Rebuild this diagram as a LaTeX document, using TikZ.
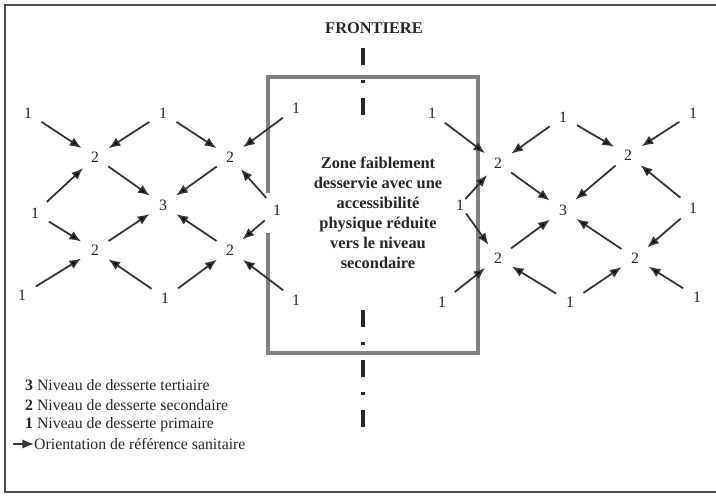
\documentclass[tikz,border=0pt]{standalone}
\usepackage{fontspec}
\setmainfont{Liberation Serif}
\usetikzlibrary{arrows.meta}

\tikzset{
  lvl/.style={circle, inner sep=0pt, minimum size=0.75cm, text=black!85, font=\fontsize{13.5}{15}\selectfont},
  arr/.style={-{Latex[length=10pt,width=8pt]}, line width=1.5pt, draw=black!80, shorten >=3pt, shorten <=3pt},
  leg/.style={anchor=west, text=black!85, font=\fontsize{13.5}{16}\selectfont}
}

\begin{document}
\begin{tikzpicture}[x=0.03cm, y=-0.03cm]
  \useasboundingbox (0,0) rectangle (716,495);
  \draw[line width=1.5pt, black!70] (716,5) -- (5,5) -- (5,492) -- (716,492);

  \node[font=\fontsize{14}{16}\selectfont\bfseries, text=black!85] (front) at (374,28) {FRONTIERE};
  \draw[line width=3.5pt, black!85, dash pattern=on 14.5pt off 12.8pt on 2.6pt off 12.8pt] (363,48) -- (363,117);
  \draw[line width=3.5pt, black!85, dash pattern=on 14.5pt off 12.8pt on 2.6pt off 12.8pt] (363,310) -- (363,432);

  \draw[line width=3pt, black!50] (268,193) -- (268,77) -- (478,77) -- (478,353) -- (268,353) -- (268,233);
  \node[align=center, text=black!85, font=\fontsize{14}{17}\selectfont\bfseries] (zone) at (378,213)
    {Zone faiblement\\desservie avec une\\accessibilit\'e\\physique r\'eduite\\vers le niveau\\secondaire};

  \node[lvl] (La) at (28,113) {1};
  \node[lvl] (Lb) at (163,113) {1};
  \node[lvl] (Lc) at (296,108) {1};
  \node[lvl] (Ld) at (95,157) {2};
  \node[lvl] (Le) at (230,157) {2};
  \node[lvl] (Lf) at (35,213) {1};
  \node[lvl] (Lg) at (163,205) {3};
  \node[lvl] (Lh) at (277,210) {1};
  \node[lvl] (Li) at (95,250) {2};
  \node[lvl] (Lj) at (230,250) {2};
  \node[lvl] (Lk) at (22,295) {1};
  \node[lvl] (Ll) at (165,298) {1};
  \node[lvl] (Lm) at (296,300) {1};

  \node[lvl] (Ra) at (432,113) {1};
  \node[lvl] (Rb) at (563,117) {1};
  \node[lvl] (Rc) at (693,113) {1};
  \node[lvl] (Rd) at (498,163) {2};
  \node[lvl] (Re) at (628,155) {2};
  \node[lvl] (Rf) at (460,205) {1};
  \node[lvl] (Rg) at (563,210) {3};
  \node[lvl] (Rh) at (693,208) {1};
  \node[lvl] (Ri) at (498,258) {2};
  \node[lvl] (Rj) at (635,258) {2};
  \node[lvl] (Rk) at (442,302) {1};
  \node[lvl] (Rl) at (570,302) {1};
  \node[lvl] (Rm) at (697,297) {1};

  \path[arr]
  (La) edge (Ld)  (Lb) edge (Ld)  (Lb) edge (Le)  (Lc) edge (Le)
  (Lf) edge (Ld)  (Ld) edge (Lg)  (Le) edge (Lg)  (Lh) edge (Le)
  (Lf) edge (Li)  (Li) edge (Lg)  (Lj) edge (Lg)  (Lh) edge (Lj)
  (Lk) edge (Li)  (Ll) edge (Li)  (Ll) edge (Lj)  (Lm) edge (Lj)
  ;
  \path[arr]
  (Ra) edge (Rd)  (Rb) edge (Rd)  (Rb) edge (Re)  (Rc) edge (Re)
  (Rf) edge[shorten <=-4pt] (Rd)  (Rd) edge (Rg)  (Re) edge (Rg)  (Rh) edge (Re)
  (Rf) edge[shorten <=-2pt] (Ri)  (Ri) edge (Rg)  (Rj) edge (Rg)  (Rh) edge (Rj)
  (Rk) edge (Ri)  (Rl) edge (Ri)  (Rl) edge (Rj)  (Rm) edge (Rj)
  ;

  \node[leg] (leg3) at (21,385) {\textbf{3} Niveau de desserte tertiaire};
  \node[leg] (leg2) at (21,405) {\textbf{2} Niveau de desserte secondaire};
  \node[leg] (leg1) at (21,425) {\textbf{1} Niveau de desserte primaire};
  \coordinate (legA) at (13,444);
  \node[leg, inner sep=0pt] (leg0) at (34,444) {Orientation de r\'ef\'erence sanitaire};
  \draw[arr, shorten >=0pt, shorten <=0pt] (legA) -- (leg0.west);
\end{tikzpicture}
\end{document}
